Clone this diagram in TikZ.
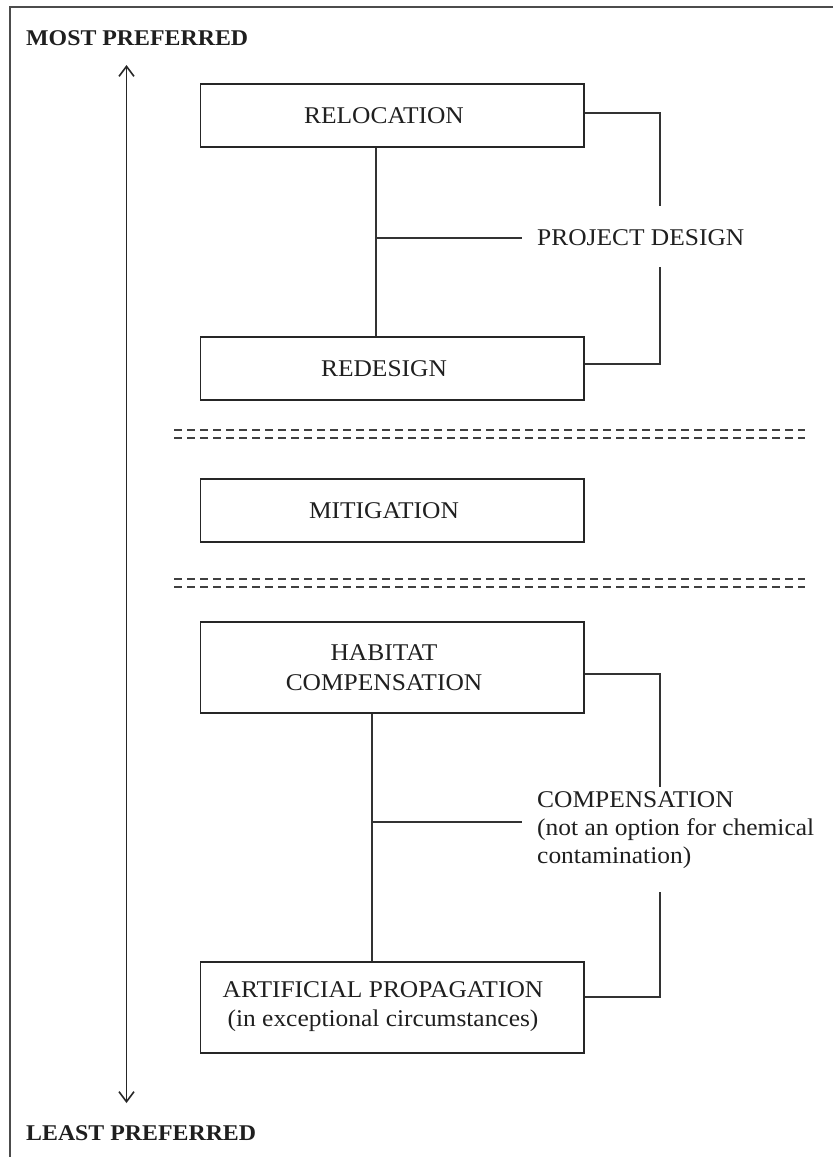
\documentclass[tikz,border=0pt]{standalone}
\usepackage{fontspec}
\setmainfont{Liberation Serif}[FakeStretch=1.06]
\usetikzlibrary{arrows.meta,calc}
\begin{document}
\begin{tikzpicture}[x=1pt,y=-1pt,
  box/.style={draw=black!85, line width=1.3pt, minimum width=383.5pt, inner sep=0pt, rectangle},
  lbl/.style={font=\fontsize{24}{29.5}\selectfont, align=center, inner sep=0pt, text=black!88},
  side/.style={font=\fontsize{24}{28}\selectfont, align=left, inner sep=0pt, anchor=west, text=black!88},
  conn/.style={draw=black!80, line width=1.2pt},
  dashline/.style={draw=black!75, line width=1.2pt, dash pattern=on 8pt off 5pt},
  frameline/.style={draw=black!70, line width=2pt},
  hdr/.style={font=\fontsize{22.5}{28}\selectfont\bfseries, anchor=base west, inner sep=0pt, text=black!88},
  arr/.style={draw=black!85, line width=1.6pt, {Straight Barb[length=10pt,width=15pt]}-{Straight Barb[length=10pt,width=15pt]}}
]
\useasboundingbox (0,0) rectangle (833,1157);

% frame
\draw[frameline] (833,6.5) -- (9.5,6.5) -- (9.5,1157);

% headers
\node[hdr] (most) at (26,45) {MOST PREFERRED};
\node[hdr] (least) at (26,1140) {LEAST PREFERRED};

% preference arrow
\coordinate (atop) at (126.5,65);
\coordinate (abot) at (126.5,1103);
\draw[arr] (atop) -- (abot);

% boxes
\node[box, minimum height=63pt] (reloc) at (392.25,115.5) {};
\node[box, minimum height=63pt] (redes) at (392.25,368.5) {};
\node[box, minimum height=63pt] (mitig) at (392.25,510.5) {};
\node[box, minimum height=91pt] (habit) at (392.25,667.5) {};
\node[box, minimum height=91pt] (artif) at (392.25,1007.5) {};

% box texts
\node[lbl] (relocT) at (384,115.5) {RELOCATION};
\node[lbl] (redesT) at (384,368.5) {REDESIGN};
\node[lbl] (mitigT) at (384,510.5) {MITIGATION};
\node[lbl] (habitT) at (384,667.5) {HABITAT\\COMPENSATION};
\node[lbl] (artifT) at (383,1006.5) {ARTIFICIAL PROPAGATION\\(in exceptional circumstances)};

% dashed separators
\draw[dashline] (174,430) -- (805,430);
\draw[dashline] (174,438) -- (805,438);
\draw[dashline] (174,579) -- (805,579);
\draw[dashline] (174,587) -- (805,587);

% project design group
\node[side] (pd) at (537,238) {PROJECT DESIGN};
\coordinate (j1) at (376,238);
\draw[conn] (reloc.south -| j1) -- (redes.north -| j1);
\draw[conn] (j1) -- ([xshift=-15pt]pd.west);
\coordinate (b1) at (660,113);
\coordinate (b2) at (660,206);
\coordinate (b3) at (660,267);
\coordinate (b4) at (660,364);
\draw[conn] (reloc.east |- b1) -- (b1) -- (b2);
\draw[conn] (b3) -- (b4) -- (redes.east |- b4);

% compensation group
\node[side] (comp) at (537,830) {COMPENSATION\\(not an option for chemical\\contamination)};
\coordinate (j2) at (372,822);
\draw[conn] (habit.south -| j2) -- (artif.north -| j2);
\draw[conn] (j2) -- ([xshift=-15pt]comp.west |- j2);
\coordinate (b5) at (660,674);
\coordinate (b6) at (660,787);
\coordinate (b7) at (660,892);
\coordinate (b8) at (660,997);
\draw[conn] (habit.east |- b5) -- (b5) -- (b6);
\draw[conn] (b7) -- (b8) -- (artif.east |- b8);
\end{tikzpicture}
\end{document}
